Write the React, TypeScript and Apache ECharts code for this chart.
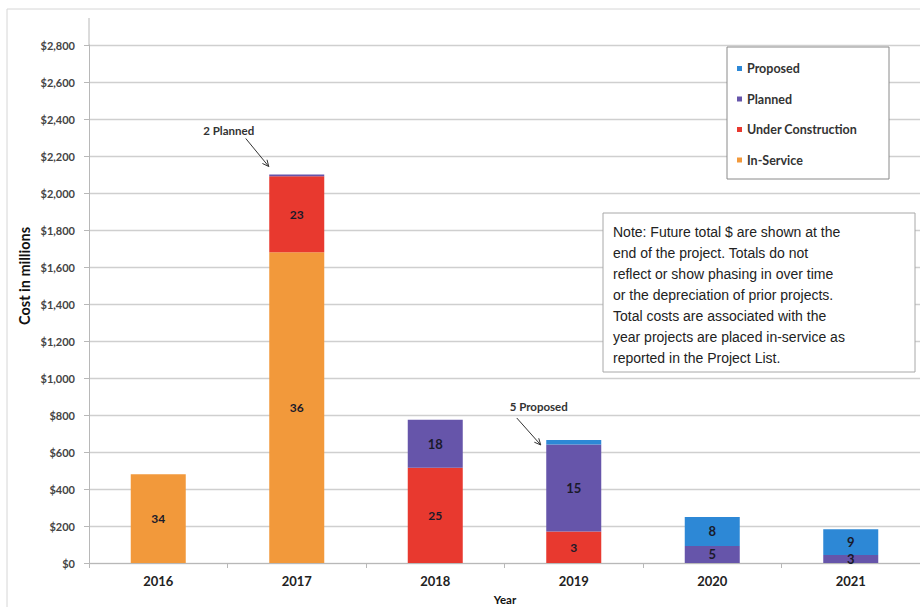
import React, { useEffect, useRef } from "react";
import * as echarts from "echarts";

const categories = ["2016", "2017", "2018", "2019", "2020", "2021"];
// cost in $ millions per status
const inService = [480, 1680, null, null, null, null];
const underConstruction = [null, 410, 515, 170, null, null];
const planned = [null, 10, 260, 470, 92, 43];
const proposed = [null, null, null, 25, 157, 140];
// number of projects shown as labels
const inServiceCount = [34, 36, null, null, null, null];
const underConstructionCount = [null, 23, 25, 3, null, null];
const plannedCount = [null, null, 18, 15, 5, 3];
const proposedCount = [null, null, null, null, 8, 9];

const legendNames = ["Proposed", "Planned", "Under Construction", "In-Service"];
const colors = {
  proposed: "#2D88D6",
  planned: "#6655AA",
  under: "#E8392F",
  inService: "#F2993B",
};
const noteLines = [
  "Note: Future total $ are shown at the",
  "end of the project. Totals do not",
  "reflect or show phasing in over time",
  "or the depreciation of prior projects.",
  "Total costs are associated with the",
  "year projects are placed in-service as",
  "reported in the Project List.",
];
const annotation2017 = "2 Planned";
const annotation2019 = "5 Proposed";

const FONT = "Lato, 'DejaVu Sans', sans-serif";

function totalAt(i: number) {
  return [inService, underConstruction, planned, proposed].reduce(
    (s, arr) => s + (arr[i] || 0),
    0
  );
}

function arrow(x1: number, y1: number, x2: number, y2: number) {
  const dx = x2 - x1;
  const dy = y2 - y1;
  const len = Math.sqrt(dx * dx + dy * dy);
  const ux = -dx / len;
  const uy = -dy / len;
  const a = (25 * Math.PI) / 180;
  const h = 7;
  const p1 = [x2 + h * (ux * Math.cos(a) - uy * Math.sin(a)), y2 + h * (ux * Math.sin(a) + uy * Math.cos(a))];
  const p2 = [x2 + h * (ux * Math.cos(a) + uy * Math.sin(a)), y2 + h * (-ux * Math.sin(a) + uy * Math.cos(a))];
  return [
    { type: "line", z: 6, shape: { x1, y1, x2, y2 }, style: { stroke: "#333", lineWidth: 1 } },
    { type: "polyline", z: 6, shape: { points: [p1, [x2, y2], p2] }, style: { stroke: "#333", lineWidth: 1, fill: null } },
  ];
}

export default function App() {
  const ref = useRef<HTMLDivElement>(null);
  useEffect(() => {
    document.body.style.margin = "0";
    const chart = echarts.init(ref.current!, null, { renderer: "svg" });
    const labelFor = (counts: (number | null)[], size = 12) => ({
      show: true,
      position: "inside",
      fontFamily: FONT,
      fontWeight: "bold",
      fontSize: size,
      color: "#1a1a2a",
      formatter: (p: any) => (counts[p.dataIndex] == null ? "" : String(counts[p.dataIndex])),
    });
    const mkSeries = (name: string, data: any[], color: string, counts: any[], size = 12) => ({
      name,
      type: "bar",
      stack: "total",
      data,
      barWidth: 55,
      itemStyle: { color },
      label: labelFor(counts, size),
    });
    chart.setOption({
      animation: false,
      backgroundColor: "#ffffff",
      grid: { left: 89, right: -2, top: 45, height: 518 },
      legend: {
        orient: "vertical",
        left: 732,
        top: 57,
        z: 10,
        data: legendNames,
        icon: "rect",
        itemWidth: 5,
        itemHeight: 5,
        itemGap: 17.5,
        selectedMode: false,
        textStyle: { fontFamily: FONT, fontSize: 12.5, fontWeight: "bold", color: "#333" },
      },
      xAxis: {
        type: "category",
        data: categories,
        axisLine: { lineStyle: { color: "#b8b8b8", width: 1 } },
        axisTick: { show: true, length: 5, lineStyle: { color: "#b8b8b8" } },
        axisLabel: { margin: 11, fontFamily: FONT, fontWeight: "bold", fontSize: 13, color: "#222" },
      },
      yAxis: {
        type: "value",
        min: 0,
        max: 2800,
        interval: 200,
        axisLine: { show: true, lineStyle: { color: "#b8b8b8" } },
        axisTick: { show: true, length: 5, lineStyle: { color: "#b8b8b8" } },
        splitLine: { lineStyle: { color: "#cfcfcf", width: 1.3 } },
        axisLabel: {
          margin: 14,
          fontFamily: FONT,
          fontSize: 11,
          fontWeight: "bold",
          color: "#444",
          formatter: (v: number) => "$" + v.toLocaleString("en-US"),
        },
      },
      series: [
        mkSeries("In-Service", inService, colors.inService, inServiceCount),
        mkSeries("Under Construction", underConstruction, colors.under, underConstructionCount),
        mkSeries("Planned", planned, colors.planned, plannedCount, 13),
        mkSeries("Proposed", proposed, colors.proposed, proposedCount, 13),
      ],
    });

    const p17 = chart.convertToPixel({ xAxisIndex: 0, yAxisIndex: 0 }, ["2017", totalAt(1)]) as number[];
    const p19 = chart.convertToPixel({ xAxisIndex: 0, yAxisIndex: 0 }, ["2019", totalAt(3)]) as number[];
    const tip17 = [p17[0] - 28, p17[1] - 8];
    const tip19 = [p19[0] - 33, p19[1] + 5];

    chart.setOption({
      graphic: [
        { type: "rect", z: 0, silent: true, shape: { x: 7, y: 9, width: 940, height: 640 }, style: { fill: null, stroke: "#d6d6d6", lineWidth: 1 } },
        { type: "line", z: 1, shape: { x1: 89, y1: 18, x2: 89, y2: 45 }, style: { stroke: "#b8b8b8", lineWidth: 1 } },
        {
          type: "text",
          z: 6,
          x: 24,
          y: 276,
          rotation: Math.PI / 2,
          style: { text: "Cost in millions", fontFamily: FONT, fontSize: 14.5, fontWeight: "bold", fill: "#111", align: "center", verticalAlign: "middle" },
        },
        {
          type: "text",
          z: 6,
          x: 505,
          y: 599,
          style: { text: "Year", fontFamily: FONT, fontSize: 11.5, fontWeight: "bold", fill: "#111", align: "center", verticalAlign: "middle" },
        },
        { type: "rect", z: 5, shape: { x: 727, y: 47, width: 162, height: 132 }, style: { fill: "#fff", stroke: "#8a8a8a", lineWidth: 1 } },
        { type: "rect", z: 5, shape: { x: 603, y: 213, width: 312, height: 159 }, style: { fill: "#fff", stroke: "#a8a8a8", lineWidth: 1 } },
        {
          type: "text",
          z: 6,
          x: 613,
          y: 221,
          style: { text: noteLines.join("\n"), fontFamily: "'Liberation Sans', Arial, sans-serif", fontSize: 14, lineHeight: 21, fill: "#222" },
        },
        {
          type: "text",
          z: 6,
          x: p17[0] - 68,
          y: p17[1] - 44,
          style: { text: annotation2017, fontFamily: FONT, fontSize: 11.5, fontWeight: "bold", fill: "#333", align: "center", verticalAlign: "middle" },
        },
        ...arrow(tip17[0] - 23, tip17[1] - 28, tip17[0], tip17[1]),
        {
          type: "text",
          z: 6,
          x: p19[0] - 35,
          y: p19[1] - 33,
          style: { text: annotation2019, fontFamily: FONT, fontSize: 11.5, fontWeight: "bold", fill: "#333", align: "center", verticalAlign: "middle" },
        },
        ...arrow(tip19[0] - 24, tip19[1] - 27, tip19[0], tip19[1]),
      ],
    });
    return () => chart.dispose();
  }, []);
  return <div ref={ref} style={{ width: 920, height: 607 }} />;
}
